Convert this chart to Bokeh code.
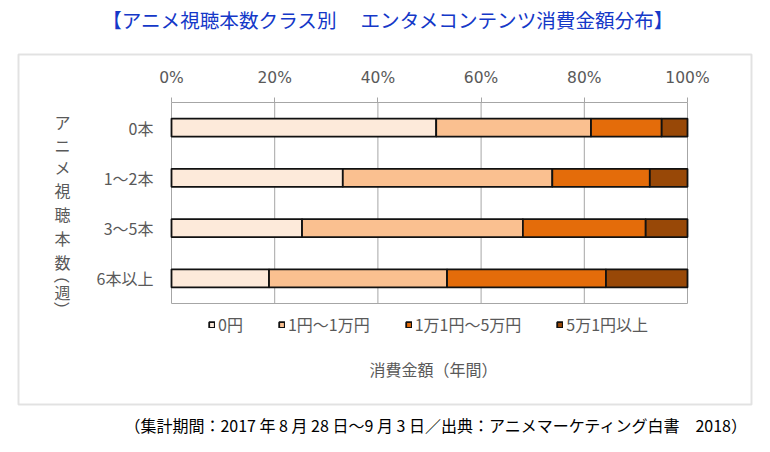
import math
from bokeh.plotting import figure
from bokeh.models import (ColumnDataSource, FixedTicker, Label, BoxAnnotation, LinearAxis,
                          Range1d)
from bokeh.embed import file_html
from bokeh.resources import INLINE

# ---- data ----
categories = ["0本", "1～2本", "3～5本", "6本以上"]
series = ["0円", "1円～1万円", "1万1円～5万円", "5万1円以上"]
v_0yen = [51.3, 33.2, 25.3, 18.9]
v_1man = [30.0, 40.6, 42.8, 34.5]
v_5man = [13.7, 18.9, 23.8, 30.8]
v_over = [5.0, 7.3, 8.1, 15.8]
ticks = [0, 20, 40, 60, 80, 100]
tick_labels = ["0%", "20%", "40%", "60%", "80%", "100%"]
colors = ["#FDEADA", "#FAC090", "#E46C0A", "#984807"]

title_text = "【アニメ視聴本数クラス別　 エンタメコンテンツ消費金額分布】"
# vertical title: (character, rotated?) -- parentheses are rotated for vertical writing
ytitle_chars = ["ア", "ニ", "メ", "視", "聴", "本", "数", "（", "週", "）"]
ytitle_rot = [False, False, False, False, False, False, False, True, False, True]
xtitle_text = "消費金額（年間）"
footer_text = "（集計期間：2017 年 8 月 28 日～9 月 3 日／出典：アニメマーケティング白書　2018）"

JP = "Noto Sans CJK JP"
GRAY_TXT = "#595959"
GRID = "#A6A6A6"

# ---- layout (pixels) ----
W, H = 754, 436
PX0, PX100 = 171, 687        # 0% and 100% positions
PY_TOP, PY_BOT = 102, 303    # top / bottom of the bar area

n = len(categories)
ypos = [n - 1 - i for i in range(n)]
pxu = (PX100 - PX0) / 100.0
pyu = (PY_BOT - PY_TOP) / n
x_range = Range1d(-PX0 / pxu, 100 + (W - PX100) / pxu)
y_range = Range1d(-0.5 - (H - PY_BOT) / pyu, n - 0.5 + PY_TOP / pyu)

source = ColumnDataSource(dict(y=ypos, s0=v_0yen, s1=v_1man, s2=v_5man, s3=v_over))

p = figure(width=W, height=H, output_backend="svg", toolbar_location=None, tools="",
           x_range=x_range, y_range=y_range, x_axis_type=None, y_axis_type=None,
           min_border=0, min_border_left=0, min_border_right=0,
           min_border_top=0, min_border_bottom=0)
p.outline_line_color = None
p.background_fill_color = "white"
p.border_fill_color = "white"

# grid lines (vertical, only across the bar area)
p.segment(x0=ticks, y0=[-0.5] * len(ticks), x1=ticks, y1=[n - 0.5] * len(ticks),
          line_color=GRID, line_width=1)

p.hbar_stack(["s0", "s1", "s2", "s3"], y="y", height=0.36, color=colors, source=source,
             line_color="#111111", line_width=1.8, legend_label=series)

# top percentage axis
xa = LinearAxis(fixed_location=n - 0.5, bounds=(0, 100), ticker=FixedTicker(ticks=ticks),
                major_label_overrides={t: l for t, l in zip(ticks, tick_labels)})
xa.major_label_text_font = "DejaVu Sans"
xa.major_label_text_font_size = "15.5px"
xa.major_label_text_color = GRAY_TXT
xa.axis_line_color = GRID
xa.major_tick_line_color = GRID
xa.major_tick_out = 5
xa.major_tick_in = 0
xa.minor_tick_line_color = None
xa.major_label_standoff = 11
p.add_layout(xa, "above")

# bottom line of the bar area
xb = LinearAxis(fixed_location=-0.5, bounds=(0, 100), ticker=FixedTicker(ticks=[]))
xb.axis_line_color = GRID
xb.major_tick_line_color = None
xb.minor_tick_line_color = None
xb.major_label_text_alpha = 0
p.add_layout(xb, "below")

# category axis
ya = LinearAxis(fixed_location=0, ticker=FixedTicker(ticks=ypos),
                major_label_overrides={y: c for y, c in zip(ypos, categories)})
ya.major_label_text_font = JP
ya.major_label_text_font_size = "16px"
ya.major_label_text_color = GRAY_TXT
ya.axis_line_color = None
ya.major_tick_line_color = None
ya.minor_tick_line_color = None
ya.major_label_standoff = 12
p.add_layout(ya, "left")

# legend
leg = p.legend[0]
leg.location = (208, H - 336)
leg.orientation = "horizontal"
leg.glyph_width = 7
leg.glyph_height = 7
leg.label_standoff = 3
leg.spacing = 35
leg.padding = 0
leg.margin = 0
leg.border_line_color = None
leg.background_fill_color = None
leg.label_text_font = JP
leg.label_text_font_size = "16px"
leg.label_text_color = GRAY_TXT
leg.label_height = 16

# outer box
box = BoxAnnotation(left=18, right=751, top=H - 54, bottom=H - 404,
                    left_units="screen", right_units="screen", top_units="screen", bottom_units="screen",
                    fill_color=None, fill_alpha=0, line_color="#A0A0A0", line_width=2)
p.add_layout(box)

# title
p.add_layout(Label(x=388, y=H - 19, x_units="screen", y_units="screen", text=title_text,
                   text_align="center", text_baseline="middle", text_font=JP,
                   text_font_size="19.6px", text_color="#1438C8"))

# vertical y-axis title (upright stacked characters)
ycent = [121, 144, 166, 189, 213, 237, 261, 275, 291, 309]
for ch, rot, yc in zip(ytitle_chars, ytitle_rot, ycent):
    p.add_layout(Label(x=62, y=H - yc, x_units="screen", y_units="screen", text=ch,
                       angle=(-math.pi / 2 if rot else 0),
                       text_align="center", text_baseline="middle", text_font=JP,
                       text_font_size="16px", text_color=GRAY_TXT))

# x title
p.add_layout(Label(x=433, y=H - 368, x_units="screen", y_units="screen", text=xtitle_text,
                   text_align="center", text_baseline="middle", text_font=JP,
                   text_font_size="16px", text_color=GRAY_TXT))

# footer
p.add_layout(Label(x=748, y=H - 424, x_units="screen", y_units="screen", text=footer_text,
                   text_align="right", text_baseline="middle", text_font=JP,
                   text_font_size="16px", text_color="#000000"))

open("out.html", "w").write(file_html(p, INLINE))
